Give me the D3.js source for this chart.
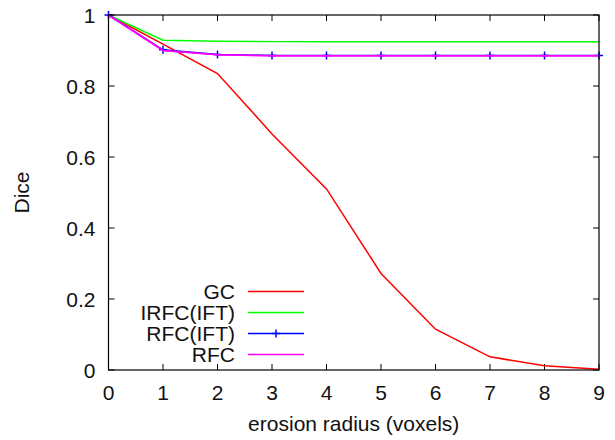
<!DOCTYPE html>
<html><head><meta charset="utf-8">
<script src="https://cdn.jsdelivr.net/npm/d3@7"></script>
<style>body{margin:0;background:#fff}svg{display:block}text{font-family:"Liberation Sans",Arial,sans-serif;fill:#111}</style>
</head><body><svg id="c" width="615" height="440"></svg>
<script>
const radius = [0,1,2,3,4,5,6,7,8,9];
const gc = [1,0.918,0.835,0.665,0.51,0.272,0.115,0.037,0.012,0.002];
const irfcIft = [1,0.929,0.926,0.925,0.925,0.925,0.925,0.925,0.925,0.925];
const rfcIft = [1,0.902,0.889,0.886,0.886,0.886,0.886,0.886,0.886,0.886];
const rfc = [1,0.900,0.888,0.885,0.885,0.885,0.885,0.885,0.885,0.885];
const seriesNames = ["GC","IRFC(IFT)","RFC(IFT)","RFC"];
const seriesColors = ["#ff0000","#00ff00","#0000ff","#ff00ff"];
const xTicks = [0,1,2,3,4,5,6,7,8,9];
const yTicks = [0,0.2,0.4,0.6,0.8,1];
const yTickLabels = ["0","0.2","0.4","0.6","0.8","1"];

const svg = d3.select("#c");
const L=108.5,R=599,T=15,B=370;
const x = d3.scaleLinear().domain([0,9]).range([L,R]);
const y = d3.scaleLinear().domain([0,1]).range([B,T]);
const fs = 21;
const sw = 1.5;

const g = svg.append("g");
const tl = 6;
xTicks.forEach(t=>{
  g.append("line").attr("x1",x(t)).attr("x2",x(t)).attr("y1",B).attr("y2",B-tl).attr("stroke","#000");
  g.append("line").attr("x1",x(t)).attr("x2",x(t)).attr("y1",T).attr("y2",T+tl).attr("stroke","#000");
  g.append("text").attr("x",x(t)).attr("y",B+30).attr("text-anchor","middle").attr("font-size",fs).text(t);
});
yTicks.forEach((t,i)=>{
  g.append("line").attr("x1",L).attr("x2",L+tl).attr("y1",y(t)).attr("y2",y(t)).attr("stroke","#000");
  g.append("line").attr("x1",R).attr("x2",R-tl).attr("y1",y(t)).attr("y2",y(t)).attr("stroke","#000");
  g.append("text").attr("x",L-13).attr("y",y(t)+7.5).attr("text-anchor","end").attr("font-size",fs).text(yTickLabels[i]);
});

const line = d3.line().x((d,i)=>x(radius[i])).y(d=>y(d));
const data = [gc,irfcIft,rfcIft,rfc];
data.forEach((vals,k)=>{
  svg.append("path").attr("d",line(vals)).attr("fill","none").attr("stroke",seriesColors[k]).attr("stroke-width",sw);
  if(k===2){
    vals.forEach((v,i)=>{
      const cx=x(radius[i]), cy=y(v);
      svg.append("path").attr("d",`M${cx-4},${cy}H${cx+4}M${cx},${cy-4}V${cy+4}`).attr("stroke",seriesColors[k]).attr("stroke-width",sw);
    });
  }
});
svg.append("path").attr("d",line(rfc)).attr("fill","none").attr("stroke",seriesColors[3]).attr("stroke-width",sw).attr("opacity",0.7);

svg.append("rect").attr("x",L).attr("y",T).attr("width",R-L).attr("height",B-T).attr("fill","none").attr("stroke","#000").attr("stroke-width",1.2);

const ly0 = 291.5, ldy = 21;
seriesNames.forEach((n,k)=>{
  const yy = ly0+k*ldy;
  svg.append("text").attr("x",235).attr("y",yy+7.5).attr("text-anchor","end").attr("font-size",fs).text(n);
  svg.append("line").attr("x1",248).attr("x2",304).attr("y1",yy).attr("y2",yy).attr("stroke",seriesColors[k]).attr("stroke-width",sw);
  if(k===2){
    svg.append("path").attr("d",`M272,${yy}H280M276,${yy-4}V${yy+4}`).attr("stroke",seriesColors[k]).attr("stroke-width",sw);
  }
});

svg.append("text").attr("x",(L+R)/2).attr("y",431).attr("text-anchor","middle").attr("font-size",fs).text("erosion radius (voxels)");
svg.append("text").attr("transform",`translate(29,${(T+B)/2}) rotate(-90)`).attr("text-anchor","middle").attr("font-size",fs).text("Dice");
</script></body></html>
